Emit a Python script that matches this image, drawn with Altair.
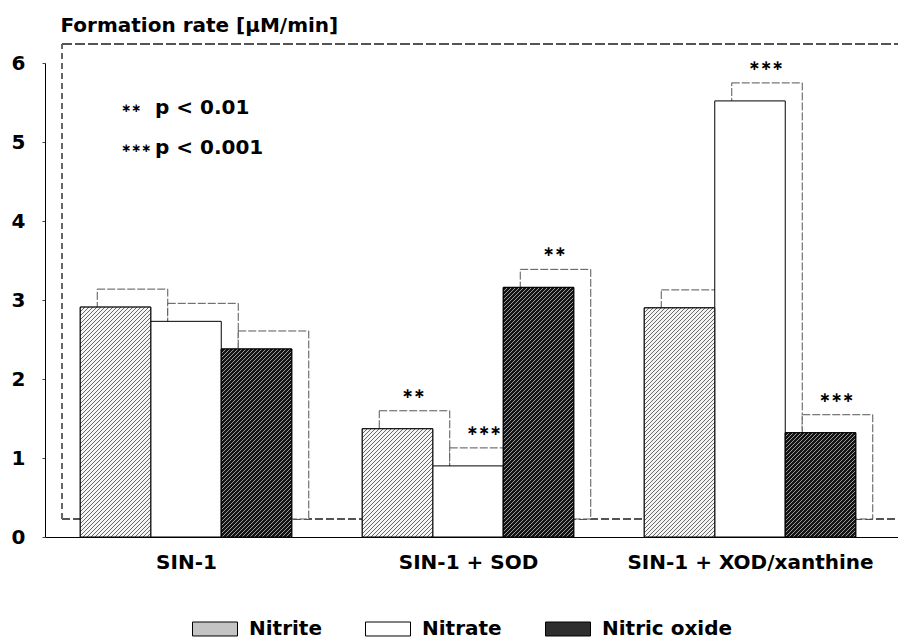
import json
import altair as alt
import pandas as pd

# ---------------- data ----------------
categories = ["SIN-1", "SIN-1 + SOD", "SIN-1 + XOD/xanthine"]
series = ["Nitrite", "Nitrate", "Nitric oxide"]
nitrite = [2.91, 1.37, 2.90]
nitrate = [2.73, 0.90, 5.52]
nitric_oxide = [2.38, 3.16, 1.32]

sig_cat = ["SIN-1 + SOD", "SIN-1 + SOD", "SIN-1 + SOD",
           "SIN-1 + XOD/xanthine", "SIN-1 + XOD/xanthine"]
sig_series = ["Nitrite", "Nitrate", "Nitric oxide", "Nitrate", "Nitric oxide"]
sig_label = ["∗∗", "∗∗∗", "∗∗", "∗∗∗", "∗∗∗"]

note_stars = ["∗∗", "∗∗∗"]
note_text = ["p < 0.01", "p < 0.001"]

# ---------------- layout constants ----------------
FONT = "DejaVu Sans"
W, H = 853, 474
YMAX = 6
PX_PER_UNIT = H / YMAX
BAR_PX = 70.5
XMAX = W / BAR_PX
SH_X, SH_Y = 17, -18

values = {"Nitrite": nitrite, "Nitrate": nitrate, "Nitric oxide": nitric_oxide}
rows = []
for gi, c in enumerate(categories):
    for si, s in enumerate(series):
        x0 = 0.5 + 4 * gi + si
        rows.append({"cat": c, "series": s, "value": values[s][gi],
                     "x0": x0, "x1": x0 + 1, "xc": x0 + 0.5})
df = pd.DataFrame(rows)

sig_rows = []
for c, s, lab in zip(sig_cat, sig_series, sig_label):
    r = df[(df.cat == c) & (df.series == s)].iloc[0]
    sig_rows.append({"xc": r.xc, "value": r.value, "label": lab})
sig_df = pd.DataFrame(sig_rows)

notes_df = pd.DataFrame({"stars": note_stars, "text": note_text,
                         "y": [5.35, 4.85]})

x_scale = alt.Scale(domain=[0, XMAX], nice=False, zero=False)
y_scale = alt.Scale(domain=[0, YMAX], nice=False)

label_expr = json.dumps(categories) + "[round((datum.value - 2) / 4)]"

x_axis = alt.Axis(values=[2, 6, 10], labelExpr=label_expr, title=None,
                  ticks=False, tickSize=0, grid=False, labelPadding=15,
                  labelLimit=500, labelOverlap=False, labelBound=False,
                  labelFont=FONT, labelFontWeight="bold", labelFontSize=20,
                  labelColor="black", domainColor="black", domainWidth=1)
y_axis = alt.Axis(values=list(range(0, 7)), format="d",
                  title="Formation rate [µM/min]",
                  titleAngle=0, titleAlign="left", titleBaseline="alphabetic",
                  titleX=15, titleY=-32, titleFont=FONT, titleFontWeight="bold",
                  titleFontSize=20, titleColor="black",
                  grid=False, tickSize=3, tickColor="#444", labelPadding=17,
                  labelFont=FONT, labelFontWeight="bold", labelFontSize=20,
                  labelColor="black", domainColor="black", domainWidth=1)


def xq(f):
    return alt.X(f, scale=x_scale, axis=x_axis)


def yq(f):
    return alt.Y(f, scale=y_scale, axis=y_axis)


base = alt.Chart(df)

legend_path = "M-1,-0.311L1,-0.311L1,0.311L-1,0.311Z"
color_enc = alt.Color("series:N", sort=series,
                      scale=alt.Scale(domain=series, range=["#c4c4c4", "#ffffff", "#2e2e2e"]),
                      legend=alt.Legend(title=None, orient="none", legendX=147, legendY=543,
                                        direction="horizontal", columnPadding=41,
                                        labelOffset=11, symbolType=legend_path,
                                        symbolSize=2025, symbolStrokeColor="black",
                                        symbolStrokeWidth=1, labelFont=FONT,
                                        labelFontWeight="bold", labelFontSize=20,
                                        labelColor="black"))

# back walls and floor
floor = base.mark_rule(stroke="#555", strokeWidth=1, strokeDash=[8, 3],
                       yOffset=SH_Y).encode(
    x=alt.value(17), x2=alt.value(W), y=alt.YDatum(0, scale=y_scale, axis=y_axis))
left_wall = base.mark_rule(stroke="#666", strokeWidth=1, strokeDash=[6, 4],
                           yOffset=SH_Y, y2Offset=-19).encode(
    x=alt.value(17), y=alt.YDatum(0, scale=y_scale, axis=y_axis), y2=alt.Y2Datum(YMAX))
top_wall = base.mark_rule(stroke="#555", strokeWidth=1, strokeDash=[10, 3],
                          yOffset=-19).encode(
    x=alt.value(17), x2=alt.value(W), y=alt.YDatum(YMAX, scale=y_scale, axis=y_axis))

shadow = base.mark_bar(fill="white", stroke="#555", strokeWidth=1, strokeDash=[8, 2],
                       xOffset=SH_X, x2Offset=SH_X, yOffset=SH_Y, y2Offset=SH_Y).encode(
    x=xq("x0:Q"), x2="x1:Q", y=yq("value:Q"), y2=alt.Y2Datum(0))

bars = base.mark_bar(stroke="black", strokeWidth=1).encode(
    x=xq("x0:Q"), x2="x1:Q", y=yq("value:Q"), y2=alt.Y2Datum(0), color=color_enc)


def hatch(h, bg, fg, period=4.0, lw=1.3):
    w = BAR_PX
    L = w + h
    c = L / (w * w + h * h)
    stops = [alt.GradientStop(color=bg, offset=0)]
    k = 0
    while True:
        s = k * period / L
        e = (k * period + lw) / L
        if s >= 1:
            break
        e = min(e, 1)
        stops += [alt.GradientStop(color=bg, offset=s), alt.GradientStop(color=fg, offset=s),
                  alt.GradientStop(color=fg, offset=e), alt.GradientStop(color=bg, offset=e)]
        k += 1
    return alt.LinearGradient(gradient="linear", stops=stops, x1=0, y1=0,
                              x2=c * w, y2=c * h)


hatch_layers = []
styles = {"Nitrite": ("#f4f4f4", "#6a6a6a", 1.2), "Nitric oxide": ("#141414", "#9c9c9c", 1.0)}
for r in rows:
    if r["series"] not in styles:
        continue
    bg, fg, lw = styles[r["series"]]
    h = r["value"] * PX_PER_UNIT
    layer = base.transform_filter(
        (alt.datum.cat == r["cat"]) & (alt.datum.series == r["series"])
    ).mark_bar(fill=hatch(h, bg, fg, lw=lw), stroke="black", strokeWidth=1).encode(
        x=xq("x0:Q"), x2="x1:Q", y=yq("value:Q"), y2=alt.Y2Datum(0))
    hatch_layers.append(layer)

stars = alt.Chart(sig_df).mark_text(font=FONT, fontWeight="bold", fontSize=14,
                                    baseline="middle", dx=16, dy=-35, color="black").encode(
    x=xq("xc:Q"), y=yq("value:Q"), text="label:N")

note_st = alt.Chart(notes_df).mark_text(font=FONT, fontWeight="bold", fontSize=12,
                                        align="left", baseline="middle", dy=-6,
                                        color="black").encode(
    x=alt.value(76), y=yq("y:Q"), text="stars:N")
note_tx = alt.Chart(notes_df).mark_text(font=FONT, fontWeight="bold", fontSize=20,
                                        align="left", baseline="alphabetic",
                                        color="black").encode(
    x=alt.value(110), y=yq("y:Q"), text="text:N")

chart = alt.layer(floor, left_wall, top_wall, shadow, bars, *hatch_layers,
                  stars, note_st, note_tx).properties(
    width=W, height=H,
    autosize=alt.AutoSizeParams(type="none"),
    padding={"left": 45, "top": 63, "right": 0, "bottom": 106},
).configure(background="white").configure_view(stroke=None)

chart.save("out.html", embed_options={"renderer": "svg", "actions": False})
